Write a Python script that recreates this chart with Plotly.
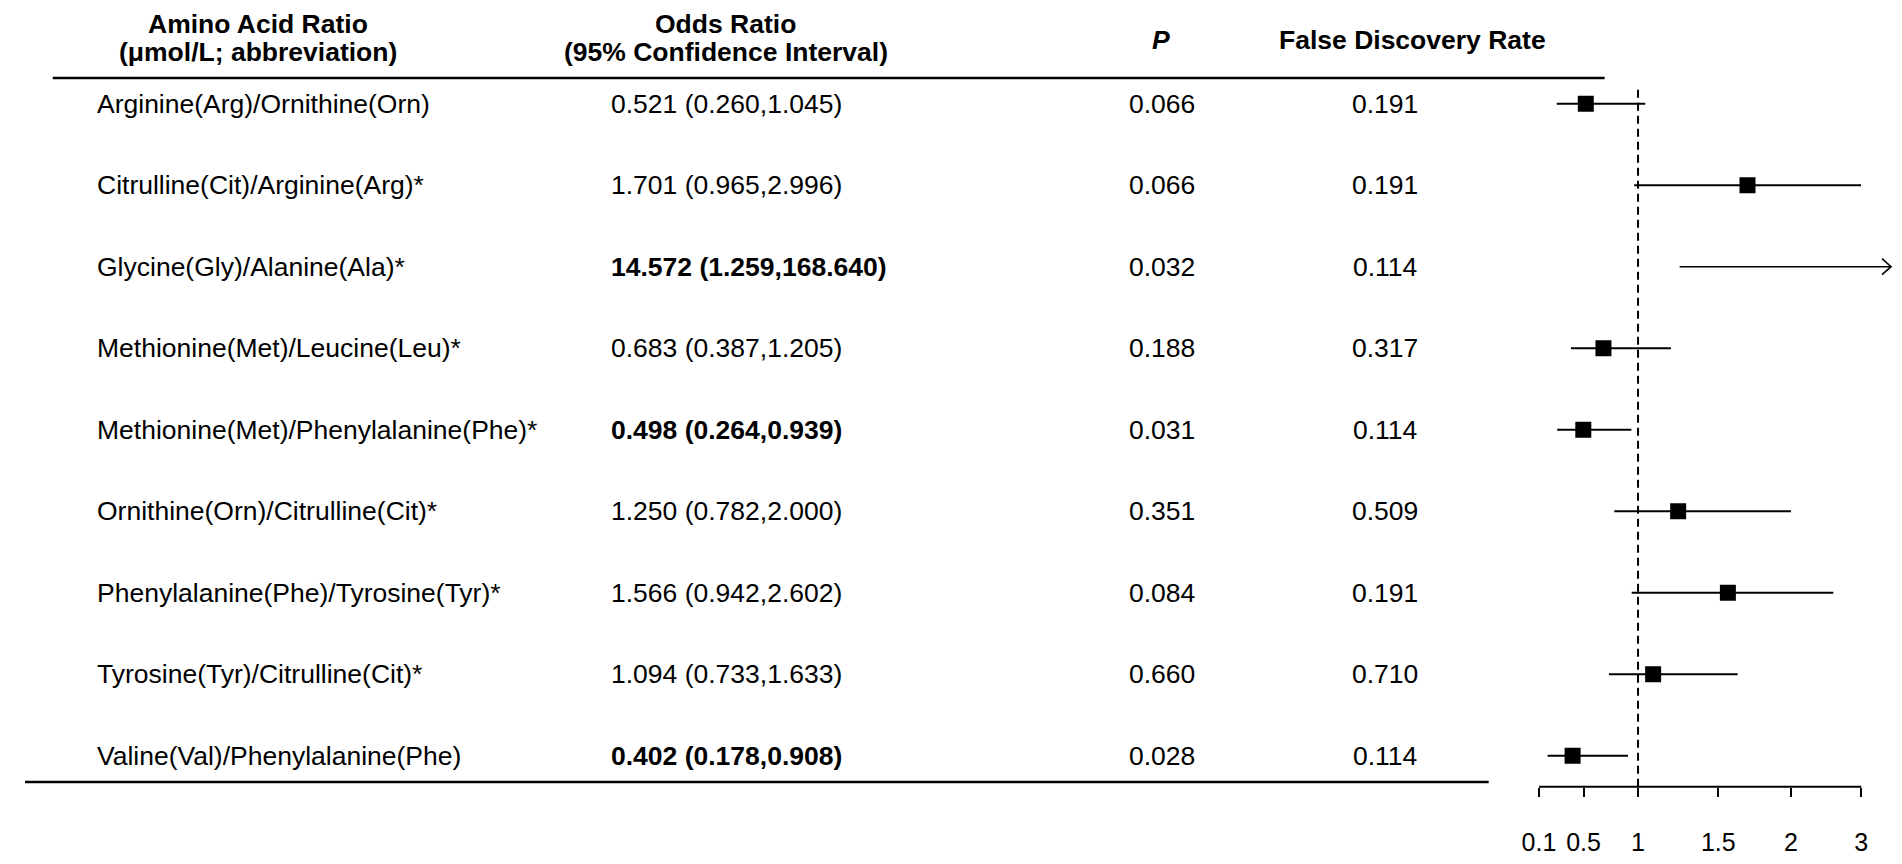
import numpy as np
import plotly.graph_objects as go

# ---------------- data ----------------
ratios = [
    "Arginine(Arg)/Ornithine(Orn)",
    "Citrulline(Cit)/Arginine(Arg)*",
    "Glycine(Gly)/Alanine(Ala)*",
    "Methionine(Met)/Leucine(Leu)*",
    "Methionine(Met)/Phenylalanine(Phe)*",
    "Ornithine(Orn)/Citrulline(Cit)*",
    "Phenylalanine(Phe)/Tyrosine(Tyr)*",
    "Tyrosine(Tyr)/Citrulline(Cit)*",
    "Valine(Val)/Phenylalanine(Phe)",
]
odds_ratio = [0.521, 1.701, 14.572, 0.683, 0.498, 1.250, 1.566, 1.094, 0.402]
ci_low = [0.260, 0.965, 1.259, 0.387, 0.264, 0.782, 0.942, 0.733, 0.178]
ci_high = [1.045, 2.996, 168.640, 1.205, 0.939, 2.000, 2.602, 1.633, 0.908]
p_values = [0.066, 0.066, 0.032, 0.188, 0.031, 0.351, 0.084, 0.660, 0.028]
fdr_values = [0.191, 0.191, 0.114, 0.317, 0.114, 0.509, 0.191, 0.710, 0.114]
tick_values = [0.1, 0.5, 1, 1.5, 2, 3]
tick_labels = ["0.1", "0.5", "1", "1.5", "2", "3"]

# ---------------- axis scale (piecewise, as drawn in the original) ----------------
TICK_FRAC = [0.0, 0.1383, 0.3074, 0.5564, 0.7817, 1.0]


def scale(v):
    return np.interp(np.asarray(v, dtype=float), tick_values, TICK_FRAC)


# ---------------- layout constants (screen pixels) ----------------
W, H = 1902, 864
BODY_MARGIN = 8                      # default page margin around the figure div
FIG_W, FIG_H = W - 2 * BODY_MARGIN, H - 2 * BODY_MARGIN
AX_LEFT_PX = 1535.7
AX_UNIT_PX = 325.3
PLOT_RIGHT_PX = 1893
AX_BOTTOM_PX = 798
ROW0_PX = 105
ROW_STEP_PX = 82.7
FONT = "Arial, 'Liberation Sans', sans-serif"
FS = 26.5


def px_x(p):
    return (p - BODY_MARGIN) / FIG_W


def px_y(p):
    return 1 - (p - BODY_MARGIN) / FIG_H


x_max = (PLOT_RIGHT_PX - AX_LEFT_PX) / AX_UNIT_PX
y_bottom = (AX_BOTTOM_PX - ROW0_PX) / ROW_STEP_PX
y_top = (BODY_MARGIN - ROW0_PX) / ROW_STEP_PX

rows = np.arange(len(ratios))
orr = np.array(odds_ratio)
lo = np.array(ci_low)
hi = np.array(ci_high)
in_scale = hi <= max(tick_values)

fig = go.Figure()

fig.add_trace(go.Scatter(
    x=scale(orr[in_scale]),
    y=rows[in_scale],
    mode="markers",
    marker=dict(symbol="square", size=16, color="black"),
    error_x=dict(
        type="data", symmetric=False,
        array=scale(hi[in_scale]) - scale(orr[in_scale]),
        arrayminus=scale(orr[in_scale]) - scale(lo[in_scale]),
        thickness=2, width=0, color="black",
    ),
    showlegend=False, hoverinfo="skip",
))

shapes = []
tip_x = x_max - 2.0 / AX_UNIT_PX
# off-scale intervals: thin line running to the plot edge, ending in an open arrowhead
for i in rows[~in_scale]:
    fig.add_trace(go.Scatter(
        x=[float(scale(lo[i])), tip_x], y=[i, i], mode="lines",
        line=dict(color="black", width=1.4),
        showlegend=False, hoverinfo="skip",
    ))
    shapes.append(dict(
        type="path", xref="x", yref="y", xsizemode="pixel", ysizemode="pixel",
        xanchor=tip_x, yanchor=float(i), path="M -9 8 L 0 0 L -9 -8",
        line=dict(color="black", width=1.6), fillcolor="rgba(0,0,0,0)",
    ))

annotations = []


def hdr(text, xc, yc):
    annotations.append(dict(
        x=px_x(xc), y=px_y(yc), xref="paper", yref="paper",
        text=text, showarrow=False, xanchor="center", yanchor="middle",
        font=dict(family=FONT, size=FS, color="black"),
    ))


hdr("<b>Amino Acid Ratio</b>", 243, 24)
hdr("<b>(μmol/L; abbreviation)</b>", 243, 53)
hdr("<b>Odds Ratio</b>", 715, 24)
hdr("<b>(95% Confidence Interval)</b>", 715, 53)
hdr("<b><i>P</i></b>", 1154, 40)
hdr("<b>False Discovery Rate</b>", 1408, 40)

# table rows
for i in rows:
    bold = p_values[i] < 0.05
    or_txt = f"{odds_ratio[i]:.3f} ({ci_low[i]:.3f},{ci_high[i]:.3f})"
    if bold:
        or_txt = f"<b>{or_txt}</b>"
    cells = [
        (ratios[i], 79, "left"),
        (or_txt, 597, "left"),
        (f"{p_values[i]:.3f}", 1155, "center"),
        (f"{fdr_values[i]:.3f}", 1380, "center"),
    ]
    for txt, xp, anc in cells:
        annotations.append(dict(
            x=px_x(xp), y=i, xref="paper", yref="y",
            text=txt, showarrow=False, xanchor=anc, yanchor="middle",
            font=dict(family=FONT, size=FS, color="black"),
        ))

shapes += [
    # header rule
    dict(type="line", xref="paper", yref="paper", x0=px_x(36), x1=px_x(1602),
         y0=px_y(79), y1=px_y(79), line=dict(color="black", width=2.5)),
    # bottom rule
    dict(type="line", xref="paper", yref="paper", x0=px_x(8), x1=px_x(1485),
         y0=px_y(793), y1=px_y(793), line=dict(color="black", width=2.5)),
    # axis line
    dict(type="line", xref="x", yref="paper", x0=float(scale(min(tick_values))),
         x1=float(scale(max(tick_values))), y0=px_y(AX_BOTTOM_PX), y1=px_y(AX_BOTTOM_PX),
         line=dict(color="black", width=2)),
    # reference line at OR = 1
    dict(type="line", xref="x", yref="paper", x0=float(scale(1)), x1=float(scale(1)),
         y0=px_y(AX_BOTTOM_PX), y1=px_y(91),
         line=dict(color="black", width=2, dash="8px,5px")),
]

fig.update_layout(
    width=FIG_W, height=FIG_H,
    margin=dict(l=0, r=0, t=0, b=0),
    paper_bgcolor="white", plot_bgcolor="white",
    showlegend=False,
    font=dict(family=FONT, size=FS, color="black"),
    annotations=annotations,
    shapes=shapes,
    xaxis=dict(
        domain=[px_x(AX_LEFT_PX), px_x(PLOT_RIGHT_PX)],
        range=[0, x_max],
        tickmode="array", tickvals=scale(tick_values), ticktext=tick_labels,
        ticks="outside", ticklen=9, tickwidth=2, tickcolor="black",
        showline=False, showgrid=False, zeroline=False,
        tickfont=dict(family=FONT, size=25, color="black"),
        ticklabelstandoff=24,
    ),
    yaxis=dict(
        domain=[px_y(AX_BOTTOM_PX), 1],
        range=[y_bottom, y_top],
        visible=False, showgrid=False, zeroline=False,
    ),
)

fig.write_html("out.html")
